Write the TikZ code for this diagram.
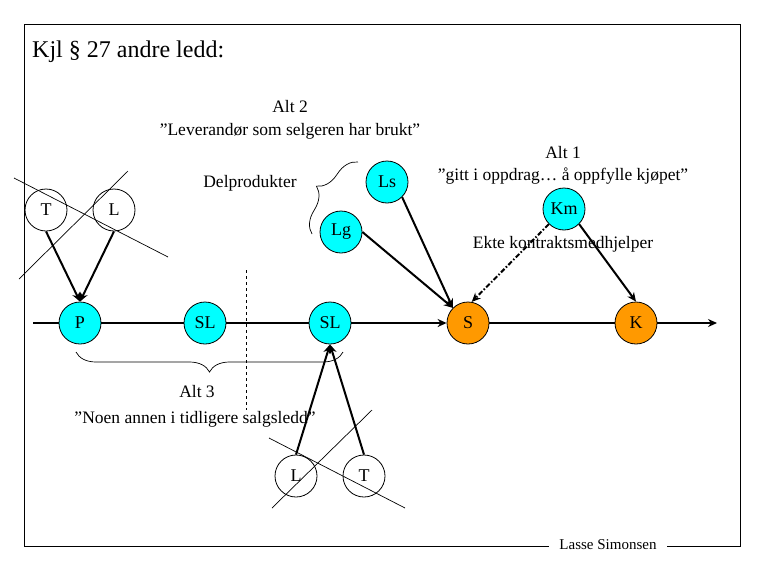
\documentclass[tikz,border=0pt]{standalone}
\usepackage{fontspec}
\setmainfont{Liberation Serif}
\usetikzlibrary{arrows.meta,decorations.pathreplacing}

\definecolor{sellercyan}{RGB}{0,255,255}
\definecolor{buyerorange}{RGB}{255,153,0}

\newcommand{\lblfont}{\fontsize{17.5}{20}\selectfont}
\newcommand{\partyfont}{\fontsize{18}{20}\selectfont}

\tikzset{
  party/.style={circle, draw, line width=0.8pt, minimum size=42pt, inner sep=0pt, font=\partyfont},
  seller/.style={party, fill=sellercyan},
  buyer/.style={party, fill=buyerorange},
  outsider/.style={party, fill=white},
  lbl/.style={font=\lblfont, inner sep=0pt, anchor=base},
  feed/.style={line width=2pt, -{Stealth[length=9pt,width=8pt]}},
  chain/.style={line width=1.8pt},
  strike/.style={line width=0.7pt},
  bracemark/.style={decorate, line width=0.7pt},
}

\begin{document}
\begin{tikzpicture}[x=1pt,y=-1pt]
\useasboundingbox (0,0) rectangle (765,570);

% frame and title
\draw[line width=1pt] (24,24) rectangle (740,546);
\node[anchor=base west, inner sep=0pt, font=\fontsize{24}{28}\selectfont] (title) at (32,57) {Kjl § 27 andre ledd:};
\node[fill=white, inner xsep=10pt, inner ysep=2pt, font=\fontsize{15}{18}\selectfont] (sign) at (608,545) {Lasse Simonsen};

% the sales chain
\node[seller] (P) at (80,323) {P};
\node[seller] (SL1) at (205,323) {SL};
\node[seller] (SL2) at (330,323) {SL};
\node[buyer] (S) at (468,323) {S};
\node[buyer] (K) at (636,323) {K};
\coordinate (start) at (33,323);
\coordinate (end) at (717,323);

\draw[chain] (start) -- (P);
\draw[chain] (P) -- (SL1);
\draw[chain] (SL1) -- (SL2);
\draw[chain, -{Stealth[length=9pt,width=8pt]}] (SL2) -- (S);
\draw[chain] (S) -- (K);
\draw[chain, -{Stealth[length=9pt,width=8pt]}] (K) -- (end);

% suppliers to the producer (crossed out)
\node[outsider] (T1) at (46,210) {T};
\node[outsider] (L1) at (114,210) {L};
\draw[feed] (T1.south) -- (P.north);
\draw[feed] (L1.south) -- (P.north);
\draw[strike] (14,178) -- (168,257);
\draw[strike] (19,279) -- (128,171);

% suppliers to the last seller in the chain (crossed out)
\node[outsider] (L2) at (296,476) {L};
\node[outsider] (T2) at (364,476) {T};
\draw[feed] (L2.north) -- (SL2.south);
\draw[feed] (T2.north) -- (SL2.south);
\draw[strike] (269,438) -- (405,508);
\draw[strike] (272,508) -- (372,410);

% Alt 2
\node[lbl] (alt2) at (290,112) {Alt 2};
\node[lbl] (alt2txt) at (290,135) {”Leverandør som selgeren har brukt”};
\node[seller] (Ls) at (387,182) {Ls};
\node[seller] (Lg) at (341,232) {Lg};
\node[lbl] (delprod) at (250,187) {Delprodukter};
\draw[bracemark, decoration={brace, amplitude=22pt}] (312,234) -- (358,162);
\draw[feed] (Ls.south east) -- (S.135);
\draw[feed] (Lg.east) -- (S.135);

% Alt 1
\node[lbl] (alt1) at (563,158) {Alt 1};
\node[lbl] (alt1txt) at (563,180) {”gitt i oppdrag… å oppfylle kjøpet”};
\node[seller] (Km) at (564,209) {Km};
\node[lbl] (ekte) at (563,248) {Ekte kontraktsmedhjelper};
\draw[feed, dash pattern=on 5pt off 2pt on 1.5pt off 2pt] (Km.south west) -- (S.80);
\draw[feed] (Km.south east) -- (K.north);

% Alt 3
\draw[dashed, line width=0.7pt] (246,270) -- (246,410);
\draw[bracemark, decoration={brace, amplitude=20pt}] (343,352) -- (76,352);
\node[lbl] (alt3) at (197,397) {Alt 3};
\node[lbl] (alt3txt) at (195,423) {”Noen annen i tidligere salgsledd”};

\end{tikzpicture}
\end{document}
